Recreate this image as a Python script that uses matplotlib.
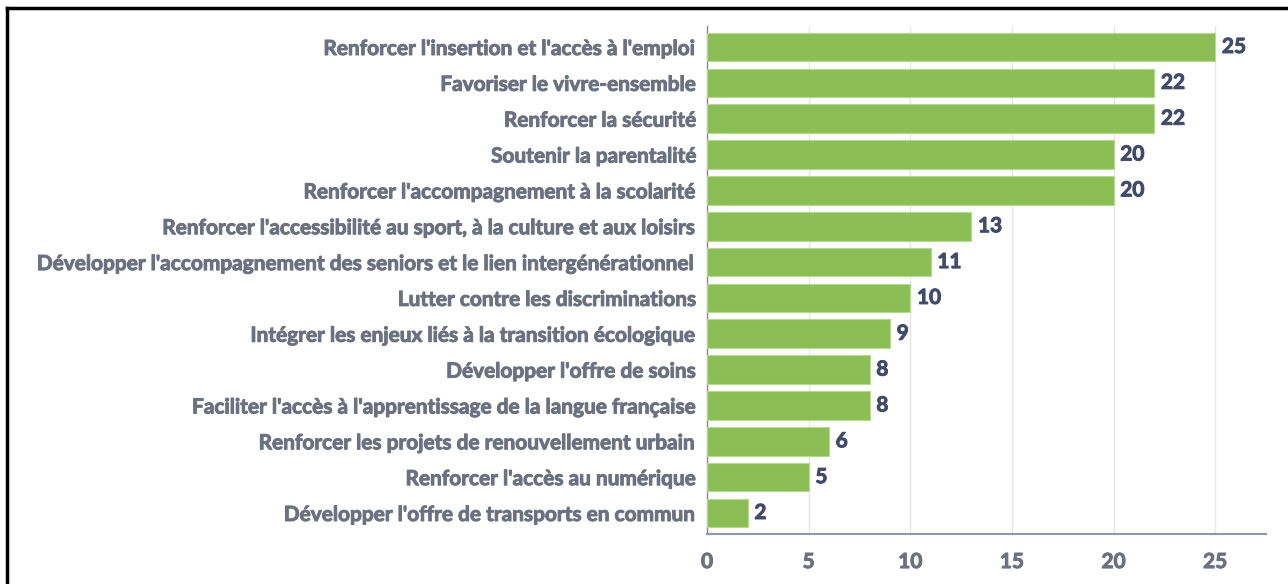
import matplotlib
matplotlib.use("Agg")
import matplotlib.pyplot as plt
from matplotlib.lines import Line2D
import matplotlib.patheffects as pe

categories = [
    "Renforcer l'insertion et l'accès à l'emploi",
    "Favoriser le vivre-ensemble",
    "Renforcer la sécurité",
    "Soutenir la parentalité",
    "Renforcer l'accompagnement à la scolarité",
    "Renforcer l'accessibilité au sport, à la culture et aux loisirs",
    "Développer l'accompagnement des seniors et le lien intergénérationnel",
    "Lutter contre les discriminations",
    "Intégrer les enjeux liés à la transition écologique",
    "Développer l'offre de soins",
    "Faciliter l'accès à l'apprentissage de la langue française",
    "Renforcer les projets de renouvellement urbain",
    "Renforcer l'accès au numérique",
    "Développer l'offre de transports en commun",
]
values = [25, 22, 22, 20, 20, 13, 11, 10, 9, 8, 8, 6, 5, 2]
xticks = [0, 5, 10, 15, 20, 25]

plt.rcParams['font.family'] = ['Lato', 'DejaVu Sans']
FW = "bold"
FS = 15.0
LABEL_C = "#6b7180"
VALUE_C = "#424b6a"

def heavy(color):
    return [pe.withStroke(linewidth=0.7, foreground=color)]

fig = plt.figure(figsize=(12.88, 5.84), dpi=100)
ax = fig.add_axes([707/1288, 1-534/584, (1266-707)/1288, (534-26)/584])

ypos = list(range(len(categories)))
ax.barh(ypos, values, height=0.8, color="#8bbf56", edgecolor="#b5d98f", linewidth=0.8, zorder=3)
for y, v in zip(ypos, values):
    ax.text(v + 0.33, y, str(v), va="center", ha="left", fontsize=FS,
            fontweight=FW, color=VALUE_C, path_effects=heavy(VALUE_C))

ax.set_ylim(13.586, -0.586)
ax.set_xlim(0, 27.5)
ax.set_yticks(ypos)
ax.set_yticklabels(categories, fontsize=FS, fontweight=FW, color=LABEL_C)
ax.set_xticks(xticks)
ax.set_xticklabels([str(t) for t in xticks], fontsize=FS, fontweight=FW, color=LABEL_C)
for t in ax.get_yticklabels() + ax.get_xticklabels():
    t.set_path_effects(heavy(LABEL_C))
ax.tick_params(axis="both", length=0)
ax.tick_params(axis="y", pad=7)
ax.tick_params(axis="x", pad=13)
ax.grid(axis="x", color="#e6e6e6", linewidth=1, zorder=0)
for s in ["top", "right"]:
    ax.spines[s].set_visible(False)
ax.spines["left"].set_color("#8a8a8a")
ax.spines["left"].set_linewidth(1)
ax.spines["bottom"].set_color("#8f97ae")
ax.spines["bottom"].set_linewidth(1.5)

fig.add_artist(Line2D([7/1288, 7/1288], [0, 1-8/584], transform=fig.transFigure, color="black", linewidth=2.5))
fig.add_artist(Line2D([7/1288, 1], [1-8/584, 1-8/584], transform=fig.transFigure, color="black", linewidth=2.5))

fig.savefig("out.png", dpi=100)
